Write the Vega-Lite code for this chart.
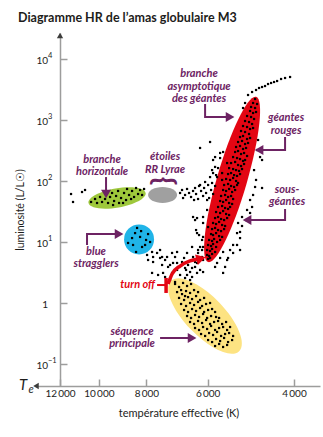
{
"$schema":"https://vega.github.io/schema/vega-lite/v6.json",
"width":283,"height":353,"autosize":"none",
"padding":{"left":37,"top":33,"right":3,"bottom":51},
"background":"white",
"title":{"text":"Diagramme HR de l’amas globulaire M3","anchor":"start","frame":"group","dx":-19,"offset":8,"font":"Lato","fontSize":12.5,"fontWeight":"bold","color":"#1d1d1b"},
"config":{"view":{"stroke":null},"axis":{"grid":false,"domainColor":"#9d9d9c","domainWidth":1.5,"tickColor":"#9d9d9c","tickWidth":1.5,"tickSize":-7,"labelFont":"Lato","labelFontSize":10,"labelColor":"#1d1d1b","titleFont":"Lato","titleFontSize":11,"titleFontWeight":"normal","titleColor":"#1d1d1b","labelOverlap":false,"labelFlush":false}},
"datasets":{
"ylab":[{"T":12696,"L":0.1,"b":"10","e":"−1"},{"T":12696,"L":1,"b":"1","e":""},{"T":12696,"L":10,"b":"10","e":"1"},{"T":12696,"L":100,"b":"10","e":"2"},{"T":12696,"L":1000,"b":"10","e":"3"},{"T":12696,"L":10000,"b":"10","e":"4"}],
"stars":[
{"T":4802,"L":2210},{"T":4847,"L":1900},{"T":4757,"L":1830},{"T":4893,"L":1634},{"T":4802,"L":1573},{"T":4916,"L":1405},{"T":4847,"L":1303},{"T":4780,"L":1353},{"T":4986,"L":1163},{"T":4893,"L":1120},{"T":4825,"L":1039},{"T":5033,"L":963},{"T":4940,"L":927},{"T":4870,"L":860},{"T":5081,"L":797},{"T":4986,"L":768},{"T":4916,"L":712},{"T":4847,"L":739},{"T":5129,"L":660},{"T":5033,"L":636},{"T":4940,"L":590},{"T":5153,"L":526},{"T":5081,"L":547},{"T":4986,"L":488},{"T":4916,"L":507},{"T":5201,"L":436},{"T":5105,"L":453},{"T":5033,"L":404},{"T":4963,"L":420},{"T":5250,"L":361},{"T":5153,"L":375},{"T":5081,"L":335},{"T":5010,"L":348},{"T":5274,"L":299},{"T":5201,"L":310},{"T":5129,"L":277},{"T":5057,"L":288},{"T":4986,"L":257},{"T":5324,"L":247},{"T":5226,"L":238},{"T":5153,"L":229},{"T":5081,"L":213},{"T":5033,"L":221},{"T":5375,"L":197},{"T":5274,"L":205},{"T":5201,"L":183},{"T":5129,"L":176},{"T":5057,"L":190},{"T":5425,"L":163},{"T":5324,"L":157},{"T":5250,"L":151},{"T":5177,"L":146},{"T":5105,"L":157},{"T":5451,"L":130},{"T":5375,"L":135},{"T":5299,"L":125},{"T":5226,"L":121},{"T":5153,"L":130},{"T":5502,"L":108},{"T":5400,"L":104},{"T":5324,"L":112},{"T":5250,"L":100},{"T":5201,"L":92.8},{"T":5554,"L":86},{"T":5451,"L":89.3},{"T":5375,"L":82.8},{"T":5299,"L":79.8},{"T":5226,"L":86},{"T":5580,"L":71.2},{"T":5502,"L":68.6},{"T":5425,"L":74},{"T":5349,"L":66},{"T":5274,"L":71.2},{"T":5633,"L":56.8},{"T":5528,"L":59},{"T":5451,"L":54.7},{"T":5375,"L":56.8},{"T":5324,"L":50.7},{"T":5659,"L":47},{"T":5580,"L":45.3},{"T":5502,"L":48.8},{"T":5425,"L":43.6},{"T":5349,"L":42},{"T":5713,"L":37.5},{"T":5606,"L":38.9},{"T":5528,"L":36.1},{"T":5451,"L":34.8},{"T":5400,"L":37.5},{"T":5767,"L":31},{"T":5659,"L":29.9},{"T":5580,"L":32.2},{"T":5502,"L":28.8},{"T":5425,"L":27.7},{"T":5794,"L":24.7},{"T":5713,"L":25.7},{"T":5633,"L":23.8},{"T":5554,"L":22.9},{"T":5476,"L":24.7},{"T":5849,"L":20.5},{"T":5767,"L":19.7},{"T":5686,"L":21.3},{"T":5606,"L":19},{"T":5528,"L":18.3},{"T":5876,"L":16.3},{"T":5794,"L":17},{"T":5713,"L":15.7},{"T":5633,"L":15.1},{"T":5554,"L":16.3},{"T":5904,"L":13.5},{"T":5849,"L":13},{"T":5767,"L":14},{"T":5686,"L":12.5},{"T":5606,"L":12.1},{"T":5959,"L":10.8},{"T":5876,"L":10.4},{"T":5821,"L":11.2},{"T":5740,"L":10},{"T":5659,"L":10.8},{"T":5987,"L":8.94},{"T":5904,"L":8.6},{"T":5849,"L":9.27},{"T":5767,"L":8.29},{"T":6015,"L":7.39},{"T":5932,"L":7.13},{"T":5876,"L":7.69},{"T":5794,"L":6.86},{"T":6015,"L":6.13},{"T":5959,"L":5.9},{"T":5876,"L":6.36},{"T":5987,"L":5.27},
{"T":4963,"L":2570},{"T":4870,"L":2877},{"T":4780,"L":3103},{"T":4713,"L":3347},{"T":4647,"L":3475},{"T":4582,"L":3607},{"T":4518,"L":3890},{"T":4454,"L":4044},{"T":4392,"L":4198},{"T":4330,"L":4358},{"T":4250,"L":4700},{"T":4171,"L":4883},{"T":4074,"L":5070},{"T":5081,"L":1573},{"T":5033,"L":1900},
{"T":5932,"L":436},{"T":6217,"L":348},{"T":5580,"L":299},{"T":5659,"L":238},{"T":5849,"L":221},{"T":5476,"L":197},{"T":5794,"L":170},{"T":5876,"L":151},{"T":5740,"L":116},{"T":5606,"L":135},{"T":5767,"L":125},{"T":5606,"L":104},{"T":5713,"L":163},{"T":5794,"L":247},{"T":5659,"L":288},{"T":6072,"L":96.3},{"T":5932,"L":116},{"T":5849,"L":135},{"T":6217,"L":86},
{"T":6829,"L":63.6},{"T":6766,"L":71.2},{"T":6671,"L":59},{"T":6609,"L":74},{"T":6547,"L":63.6},{"T":6486,"L":54.7},{"T":6425,"L":68.6},{"T":6365,"L":76.8},{"T":6335,"L":61.2},{"T":6276,"L":50.7},{"T":6247,"L":82.8},{"T":6188,"L":68.6},{"T":6130,"L":56.8},{"T":6101,"L":76.8},{"T":6044,"L":63.6},{"T":5987,"L":86},{"T":5959,"L":52.6},{"T":5904,"L":71.2},{"T":5849,"L":61.2},{"T":5794,"L":82.8},{"T":6734,"L":52.6},{"T":6395,"L":48.8},{"T":6015,"L":48.8},{"T":5876,"L":92.8},
{"T":11395,"L":61.2},{"T":11289,"L":45.3},{"T":10822,"L":66},{"T":10670,"L":71.2},
{"T":10373,"L":45.3},{"T":10180,"L":50.7},{"T":10085,"L":43.6},{"T":9944,"L":54.7},{"T":9851,"L":45.3},{"T":9713,"L":50.7},{"T":9668,"L":61.2},{"T":9577,"L":43.6},{"T":9487,"L":54.7},{"T":9398,"L":63.6},{"T":9310,"L":47},{"T":9223,"L":56.8},{"T":9137,"L":68.6},{"T":9094,"L":43.6},{"T":9010,"L":52.6},{"T":8884,"L":63.6},{"T":8801,"L":48.8},{"T":8760,"L":74},{"T":8678,"L":59},{"T":8556,"L":68.6},{"T":8476,"L":54.7},{"T":8397,"L":76.8},{"T":8318,"L":61.2},{"T":8240,"L":71.2},{"T":8163,"L":59},{"T":8087,"L":74},{"T":9354,"L":40.4},{"T":8926,"L":43.6},{"T":8596,"L":50.7},
{"T":8556,"L":11.6},{"T":8357,"L":17},{"T":8240,"L":12.1},{"T":8011,"L":10.8},{"T":7936,"L":13.5},{"T":8516,"L":8.94},{"T":8163,"L":8.29},{"T":8049,"L":8.94},{"T":8397,"L":6.86},{"T":7862,"L":10},{"T":8718,"L":9.64},{"T":8201,"L":15.1},{"T":8436,"L":14},
{"T":7789,"L":6.86},{"T":7752,"L":5.68},{"T":7608,"L":6.61},{"T":7502,"L":7.39},{"T":7431,"L":5.68},{"T":7327,"L":5.07},{"T":7936,"L":5.07},{"T":7158,"L":4.2},{"T":7091,"L":6.61},{"T":6992,"L":5.68},{"T":6926,"L":6.86},{"T":6766,"L":4.7},{"T":6671,"L":3.75},{"T":6609,"L":2.88},{"T":6516,"L":3.22},{"T":6455,"L":2.67},{"T":6365,"L":3.9},{"T":6306,"L":4.53},{"T":6425,"L":5.68},{"T":6217,"L":3.48},{"T":6276,"L":6.61},{"T":6217,"L":8.29},{"T":6130,"L":5.07},{"T":6335,"L":15.7},{"T":6247,"L":13},{"T":6130,"L":20.5},{"T":5987,"L":17.6},{"T":6365,"L":22.9},{"T":6306,"L":24.7},{"T":6015,"L":33.5},{"T":6159,"L":10.8},{"T":6455,"L":8.29},{"T":6609,"L":6.61},{"T":6702,"L":5.47},{"T":6926,"L":4.53},{"T":6578,"L":4.2},{"T":6159,"L":5.68},{"T":7502,"L":5.47},{"T":7752,"L":4.7},{"T":7397,"L":3.11},{"T":7789,"L":3.11},{"T":6425,"L":25.7},{"T":6130,"L":25.7},{"T":6306,"L":14},{"T":6130,"L":12.1},{"T":6159,"L":7.39},{"T":6130,"L":8.29},
{"T":7974,"L":6.13},{"T":7259,"L":5.68},{"T":7431,"L":4.2},{"T":7225,"L":3.9},{"T":7058,"L":4.53},{"T":7572,"L":2.88},{"T":7327,"L":2.67},{"T":7091,"L":3.11},{"T":6926,"L":3.48},{"T":6766,"L":4.2},{"T":6640,"L":3.48},{"T":6455,"L":3.75},{"T":6306,"L":3.11},{"T":6130,"L":3.22},{"T":6829,"L":2.88},{"T":6671,"L":2.57},{"T":6516,"L":2.38},{"T":6365,"L":4.7},{"T":6276,"L":7.39},{"T":5932,"L":5.47},{"T":5740,"L":4.53},{"T":5580,"L":3.11},{"T":5476,"L":5.07},{"T":5226,"L":8.94},{"T":5153,"L":7.39},{"T":5324,"L":6.61},{"T":7158,"L":2.38},{"T":6992,"L":2.21},
{"T":4802,"L":79.8},{"T":4847,"L":59},{"T":4916,"L":48.8},{"T":4986,"L":33.5},{"T":5105,"L":25.7},{"T":5201,"L":20.5},{"T":5226,"L":14},{"T":5153,"L":11.6},{"T":5324,"L":8.94},{"T":5400,"L":7.39},{"T":5580,"L":6.86},{"T":5659,"L":5.47},{"T":5451,"L":5.47},{"T":5794,"L":3.9},{"T":5528,"L":3.9},{"T":4735,"L":470},{"T":4757,"L":322},{"T":4691,"L":247},{"T":4870,"L":37.5},{"T":4916,"L":29.9},{"T":5010,"L":22.9},{"T":5105,"L":18.3},{"T":5153,"L":14.6},{"T":4647,"L":221},{"T":4825,"L":151},{"T":4780,"L":104},{"T":4647,"L":76.8},
{"T":6992,"L":2.05},{"T":6862,"L":1.83},{"T":6734,"L":2.13},{"T":6609,"L":1.9},{"T":6486,"L":2.05},{"T":6797,"L":1.63},{"T":6926,"L":1.51},{"T":6766,"L":1.4},{"T":6640,"L":1.57},{"T":6516,"L":1.46},{"T":6395,"L":1.63},{"T":6276,"L":1.51},{"T":6671,"L":1.3},{"T":6862,"L":1.21},{"T":6702,"L":1.12},{"T":6578,"L":1.25},{"T":6455,"L":1.16},{"T":6335,"L":1.3},{"T":6217,"L":1.12},{"T":6101,"L":1.21},{"T":6797,"L":0.963},{"T":6640,"L":0.893},{"T":6516,"L":1.0},{"T":6395,"L":0.927},{"T":6276,"L":1.04},{"T":6159,"L":0.893},{"T":6044,"L":0.963},{"T":5932,"L":1.0},{"T":6702,"L":0.768},{"T":6578,"L":0.712},{"T":6455,"L":0.797},{"T":6335,"L":0.739},{"T":6217,"L":0.828},{"T":6101,"L":0.712},{"T":5987,"L":0.768},{"T":5876,"L":0.797},{"T":5794,"L":0.712},{"T":6609,"L":0.612},{"T":6486,"L":0.568},{"T":6365,"L":0.636},{"T":6247,"L":0.59},{"T":6130,"L":0.66},{"T":6015,"L":0.568},{"T":5904,"L":0.612},{"T":5767,"L":0.59},{"T":5686,"L":0.568},{"T":6516,"L":0.488},{"T":6395,"L":0.453},{"T":6276,"L":0.507},{"T":6159,"L":0.47},{"T":6044,"L":0.526},{"T":5932,"L":0.453},{"T":5821,"L":0.488},{"T":5713,"L":0.507},{"T":5606,"L":0.453},{"T":5502,"L":0.488},{"T":6365,"L":0.389},{"T":6247,"L":0.361},{"T":6130,"L":0.404},{"T":6015,"L":0.375},{"T":5904,"L":0.42},{"T":5794,"L":0.361},{"T":5686,"L":0.389},{"T":5580,"L":0.404},{"T":5476,"L":0.361},{"T":5400,"L":0.404},{"T":6188,"L":0.31},{"T":6072,"L":0.288},{"T":5959,"L":0.322},{"T":5849,"L":0.299},{"T":5740,"L":0.335},{"T":5633,"L":0.288},{"T":5528,"L":0.31},{"T":5425,"L":0.322},{"T":5324,"L":0.288},{"T":5987,"L":0.247},{"T":5876,"L":0.229},{"T":5767,"L":0.257},{"T":5659,"L":0.238},{"T":5554,"L":0.267},{"T":5451,"L":0.229},{"T":5349,"L":0.247},{"T":5794,"L":0.197},{"T":5686,"L":0.213},{"T":5580,"L":0.19},{"T":5476,"L":0.205}
],
"notes":[
{"T":6247,"L":5675,"txt":"branche\nasymptotique\ndes géantes"},
{"T":4151,"L":1078,"txt":"géantes\nrouges"},
{"T":4132,"L":71.2,"txt":"sous-\ngéantes"},
{"T":7327,"L":245,"txt":"étoiles\nRR Lyrae"},
{"T":9851,"L":221,"txt":"branche\nhorizontale"},
{"T":10132,"L":6.86,"txt":"blue\nstragglers"},
{"T":8556,"L":0.335,"txt":"séquence\nprincipale"}
],
"arrows":[
{"id":1,"o":1,"T":6072,"L":1830},{"id":1,"o":2,"T":6072,"L":1120},{"id":1,"o":3,"T":5425,"L":1120},
{"id":2,"o":1,"T":4171,"L":526},{"id":2,"o":2,"T":4171,"L":322},{"id":2,"o":3,"T":4713,"L":322},
{"id":3,"o":1,"T":4171,"L":34.8},{"id":3,"o":2,"T":4171,"L":22.9},{"id":3,"o":3,"T":4986,"L":22.9},
{"id":4,"o":1,"T":9668,"L":116},{"id":4,"o":2,"T":9668,"L":63.6},
{"id":5,"o":1,"T":10571,"L":8.94},{"id":5,"o":2,"T":10571,"L":13.5},{"id":5,"o":3,"T":9137,"L":13.5},
{"id":6,"o":1,"T":7502,"L":0.267},{"id":6,"o":2,"T":6486,"L":0.267}
]
},
"encoding":{
"x":{"field":"T","type":"quantitative","scale":{"type":"log","domain":[3540,13370],"reverse":true,"nice":false},"axis":{"title":"température effective (K)","values":[12000,10000,8000,6000,4000],"labelExpr":"replace(format(datum.value, ','), ',', '\u2009')","labelPadding":9,"titlePadding":9}},
"y":{"field":"L","type":"quantitative","scale":{"type":"log","domain":[0.04357,26690],"nice":false},"axis":{"title":"luminosité (L/L☉)","titleFontSize":10.5,"labels":false,"values":[0.1,1,10,100,1000,10000],"offset":-23,"titlePadding":34}}
},
"layer":[
{"data":{"values":[{"T":5349,"L":106}]},"mark":{"type":"point","shape":"M -1 0 A 1 0.175 0 1 1 1 0 A 1 0.175 0 1 1 -1 0 Z","size":29584,"angle":286.2,"filled":true,"color":"#e30613","opacity":1,"strokeWidth":0}},
{"data":{"values":[{"T":6072,"L":0.612}]},"mark":{"type":"point","shape":"M -1 0 A 1 0.4 0 1 1 1 0 A 1 0.4 0 1 1 -1 0 Z","size":9604,"angle":46,"filled":true,"color":"#fde382","opacity":1,"strokeWidth":0}},
{"data":{"values":[{"T":9180,"L":52.6}]},"mark":{"type":"point","shape":"M -1 0 A 1 0.33 0 1 1 1 0 A 1 0.33 0 1 1 -1 0 Z","size":3364,"angle":350,"filled":true,"color":"#9ec83c","opacity":1,"strokeWidth":0}},
{"data":{"values":[{"T":7414,"L":59}]},"mark":{"type":"point","shape":"M -1 0 A 1 0.55 0 1 1 1 0 A 1 0.55 0 1 1 -1 0 Z","size":841,"filled":true,"color":"#a0a0a0","opacity":1,"strokeWidth":0}},
{"data":{"values":[{"T":8279,"L":11}]},"mark":{"type":"point","shape":"circle","size":900,"filled":true,"color":"#20b4e8","opacity":1,"strokeWidth":0}},
{"data":{"name":"stars"},"mark":{"type":"point","shape":"square","size":5,"filled":true,"color":"#000000","opacity":1,"strokeWidth":0}},
{"data":{"name":"arrows"},"mark":{"type":"line","color":"#6d2363","strokeWidth":2},"encoding":{"detail":{"field":"id"},"order":{"field":"o"}}},
{"data":{"values":[{"T":5400,"L":1120},{"T":9094,"L":13.5},{"T":6455,"L":0.267}]},"mark":{"type":"point","shape":"triangle-right","size":100,"filled":true,"color":"#6d2363","opacity":1,"strokeWidth":0}},
{"data":{"values":[{"T":4713,"L":322},{"T":4986,"L":22.9}]},"mark":{"type":"point","shape":"triangle-left","size":100,"filled":true,"color":"#6d2363","opacity":1,"strokeWidth":0}},
{"data":{"values":[{"T":9668,"L":61.2}]},"mark":{"type":"point","shape":"triangle-down","size":100,"filled":true,"color":"#6d2363","opacity":1,"strokeWidth":0}},
{"data":{"name":"notes"},"mark":{"type":"text","font":"Lato","fontSize":11,"fontStyle":"italic","fontWeight":"bold","color":"#6d2363","lineBreak":"\n","lineHeight":12.5,"align":"center","baseline":"middle"},"encoding":{"text":{"field":"txt"}}},
{"data":{"values":[{"T":7397,"L":100,"txt":"{"}]},"mark":{"type":"text","font":"Lato","fontSize":28,"fontWeight":"bold","angle":90,"color":"#6d2363","align":"center","baseline":"middle"},"encoding":{"text":{"field":"txt"}}},
{"data":{"values":[{"T":7608,"T2":7293,"L":1.97}]},"mark":{"type":"rule","color":"#e30613","strokeWidth":2},"encoding":{"x2":{"field":"T2"}}},
{"data":{"values":[{"T":7293,"L":2.57,"L2":1.46}]},"mark":{"type":"rule","color":"#e30613","strokeWidth":3.5},"encoding":{"y2":{"field":"L2"}}},
{"data":{"values":[{"o":1,"T":7225,"L":2.05},{"o":2,"T":7091,"L":2.99},{"o":3,"T":6829,"L":4.04},{"o":4,"T":6516,"L":4.89},{"o":5,"T":6276,"L":5.27}]},"mark":{"type":"line","color":"#e30613","strokeWidth":3.5,"interpolate":"monotone"},"encoding":{"order":{"field":"o"}}},
{"data":{"values":[{"T":6188,"L":5.37}]},"mark":{"type":"point","shape":"triangle-right","size":120,"angle":345,"filled":true,"color":"#e30613","opacity":1,"strokeWidth":0}},
{"data":{"values":[{"T":7679,"L":1.97,"txt":"turn off"}]},"mark":{"type":"text","font":"Lato","fontSize":11,"fontStyle":"italic","fontWeight":"bold","color":"#e30613","align":"right","baseline":"middle"},"encoding":{"text":{"field":"txt"}}},
{"data":{"name":"ylab"},"mark":{"type":"text","font":"Lato","fontSize":10,"color":"#1d1d1b","align":"right","baseline":"middle","dy":2},"encoding":{"text":{"field":"b"}}},
{"data":{"name":"ylab"},"mark":{"type":"text","font":"Lato","fontSize":7.5,"color":"#1d1d1b","align":"left","baseline":"middle","dy":-3},"encoding":{"text":{"field":"e"}}},
{"data":{"values":[{"T":13433,"L":0.04357}]},"mark":{"type":"point","shape":"triangle-left","size":40,"filled":true,"color":"#3c3c3b","opacity":1,"strokeWidth":0}},
{"data":{"values":[{"T":12000,"L":24270}]},"mark":{"type":"point","shape":"triangle-up","size":40,"filled":true,"color":"#3c3c3b","opacity":1,"strokeWidth":0}},
{"data":{"values":[{"T":14280,"L":0.0453,"txt":"T"}]},"mark":{"type":"text","font":"Lato","fontSize":15,"fontStyle":"italic","color":"#1d1d1b","align":"center","baseline":"middle"},"encoding":{"text":{"field":"txt"}}},
{"data":{"values":[{"T":13752,"L":0.0375,"txt":"e"}]},"mark":{"type":"text","font":"Lato","fontSize":11,"fontStyle":"italic","color":"#1d1d1b","align":"center","baseline":"middle"},"encoding":{"text":{"field":"txt"}}}
]
}
